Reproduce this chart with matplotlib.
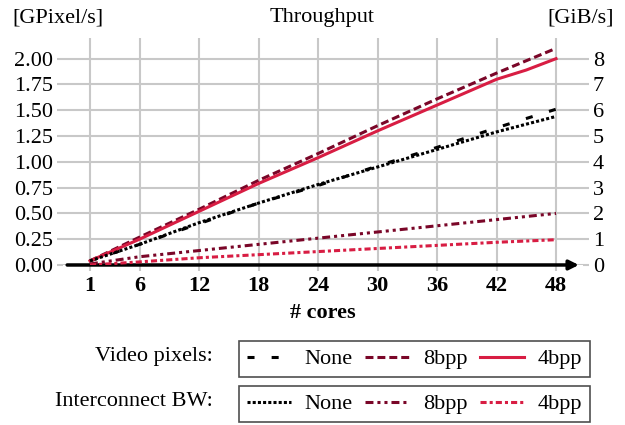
import matplotlib
matplotlib.use("Agg")
import matplotlib.pyplot as plt
from matplotlib.lines import Line2D

plt.rcParams['font.family'] = ['Liberation Serif', 'DejaVu Serif']
plt.rcParams['font.size'] = 16

# cores
cores = [1, 6, 12, 18, 24, 30, 36, 42, 45, 48]

# video pixel throughput [GPixel/s]
vid_none = [0.04, 0.20, 0.40, 0.60, 0.77, 0.96, 1.14, 1.33, 1.42, 1.51]
vid_8bpp = [0.04, 0.27, 0.54, 0.82, 1.08, 1.35, 1.61, 1.86, 1.98, 2.10]
vid_4bpp = [0.04, 0.25, 0.52, 0.79, 1.04, 1.30, 1.55, 1.80, 1.89, 2.00]

# interconnect bandwidth [GiB/s]
bw_none = [0.16, 0.80, 1.64, 2.40, 3.12, 3.80, 4.48, 5.16, 5.46, 5.76]
bw_8bpp = [0.04, 0.32, 0.56, 0.80, 1.04, 1.28, 1.52, 1.76, 1.88, 2.00]
bw_4bpp = [0.00, 0.12, 0.28, 0.40, 0.52, 0.64, 0.76, 0.88, 0.93, 0.98]

xticks = [1, 6, 12, 18, 24, 30, 36, 42, 48]
yticks_l = [0, 0.25, 0.5, 0.75, 1.0, 1.25, 1.5, 1.75, 2.0]
yticks_r = [0, 1, 2, 3, 4, 5, 6, 7, 8]

dred = '#7a0628'
crim = '#d81d43'
grid_c = '#c8c8c8'

# dash patterns (in linewidth units)
d_vnone = (2.3, 5.6)
d_v8 = (2.6, 1.3)
d_bnone = (1.0, 0.7)
d_b8 = (2.6, 1.3, 1.0, 1.3, 1.0, 1.3)
d_b4 = (2.0, 1.0, 1.0, 1.0)

fig = plt.figure(figsize=(6.25, 4.25), dpi=100)
ax = fig.add_axes([0.1008, 0.3765, 0.8320, 0.534])
ax2 = ax.twinx()

lw = 2.2
ax.plot(cores, vid_none, color='black', lw=lw, dashes=d_vnone, zorder=3)
ax.plot(cores, vid_8bpp, color=dred, lw=lw, dashes=d_v8, zorder=3)
ax.plot(cores, vid_4bpp, color=crim, lw=lw, zorder=3)
ax2.plot(cores, bw_none, color='black', lw=lw, dashes=d_bnone, zorder=3)
ax2.plot(cores, bw_8bpp, color=dred, lw=lw, dashes=d_b8, zorder=3)
ax2.plot(cores, bw_4bpp, color=crim, lw=lw, dashes=d_b4, zorder=3)

ax.set_xlim(-1.72, 50.72)
ax.set_ylim(0, 2.2)
ax2.set_ylim(0, 8.8)
ax.set_xticks(xticks)
ax.set_xticklabels([str(t) for t in xticks], fontweight='bold')
ax.set_yticks(yticks_l)
ax.set_yticklabels(['%.2f' % t for t in yticks_l])
ax2.set_yticks(yticks_r)

ax.grid(True, color=grid_c, lw=1.5)
ax.set_axisbelow(True)
for a in (ax, ax2):
    for s in a.spines.values():
        s.set_visible(False)
ax.tick_params(axis='both', color=grid_c, width=1.5, length=4, pad=3)
ax2.tick_params(axis='y', color=grid_c, width=1.5, length=4, pad=3)
ax.tick_params(axis='x', pad=4)

# x axis arrow
ax.annotate('', xy=(50.3, 0), xytext=(-1.3, 0), xycoords='data',
            arrowprops=dict(arrowstyle='-|>', color='black', lw=2.5,
                            mutation_scale=14, shrinkA=0, shrinkB=0),
            annotation_clip=False, zorder=5)

ax.set_xlabel('# cores', fontweight='bold', labelpad=5)

fig.text(0.019, 0.958, '[GPixel/s]', ha='left', va='center')
fig.text(0.515, 0.958, 'Throughput', ha='center', va='center')
fig.text(0.982, 0.958, '[GiB/s]', ha='right', va='center')

fig.text(0.340, 0.162, 'Video pixels:', ha='right', va='center')
fig.text(0.340, 0.056, 'Interconnect BW:', ha='right', va='center')

h1 = [Line2D([], [], color='black', lw=lw, dashes=d_vnone),
      Line2D([], [], color=dred, lw=lw, dashes=d_v8),
      Line2D([], [], color=crim, lw=lw)]
h2 = [Line2D([], [], color='black', lw=lw, dashes=d_bnone),
      Line2D([], [], color=dred, lw=lw, dashes=d_b8),
      Line2D([], [], color=crim, lw=lw, dashes=d_b4)]
names = ['None', '8bpp', '4bpp']

for hs, top in ((h1, 1 - 341 / 425), (h2, 1 - 386 / 425)):
    leg = fig.legend(hs, names, loc='upper left', ncol=3, mode='expand',
                     bbox_to_anchor=(0.382, 0.0, 0.562, top),
                     frameon=True, fancybox=False, handlelength=2.0,
                     columnspacing=1.0, handletextpad=0.6, borderpad=0.35,
                     borderaxespad=0.0)
    leg.get_frame().set_edgecolor('#222222')
    leg.get_frame().set_linewidth(1.2)

fig.savefig('out.png', dpi=100)
